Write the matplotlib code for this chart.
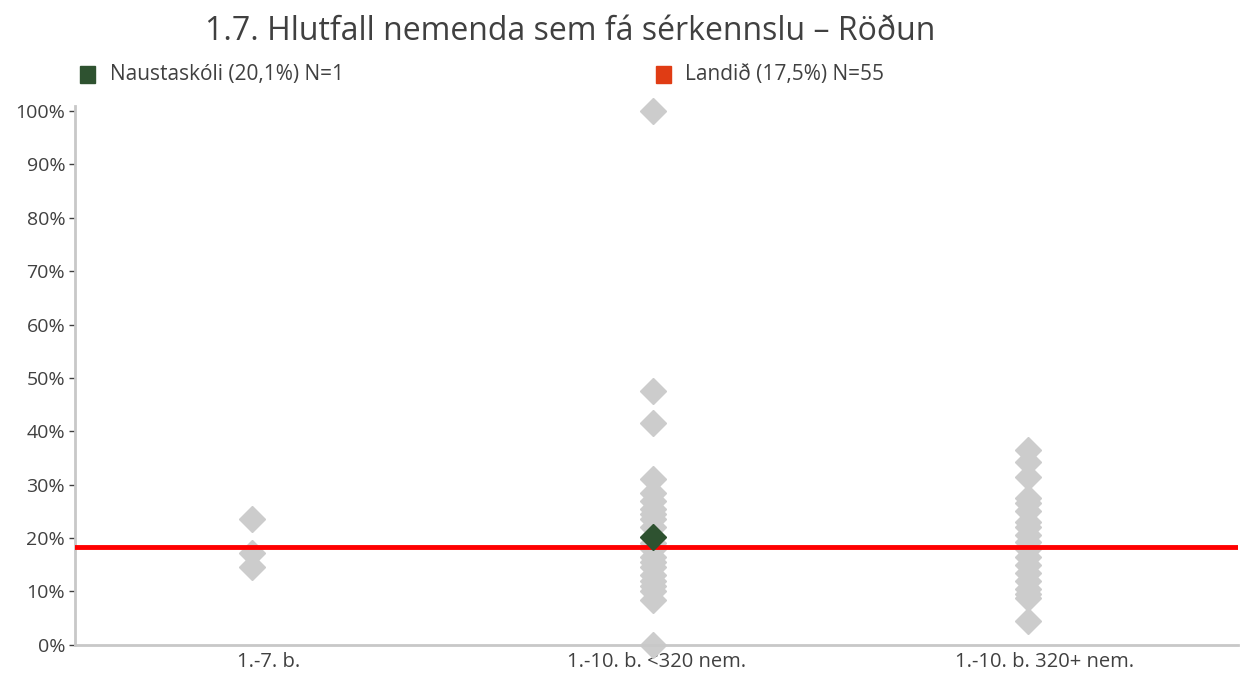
import matplotlib.pyplot as plt
import numpy as np

plt.rcParams['font.family'] = ['Open Sans', 'DejaVu Sans']

# Flokkar og gildi (hlutfall í %)
flokkar = ['1.-7. b.', '1.-10. b. <320 nem.', '1.-10. b. 320+ nem.']
hopur1 = [23.5, 17.2, 14.6]
hopur2 = [100.0, 47.5, 41.6, 31.0, 28.5, 27.0, 25.5, 24.5, 23.5, 22.0, 19.0,
          18.0, 16.5, 15.5, 14.5, 13.0, 12.0, 11.0, 10.0, 8.4, 0.0]
hopur3 = [36.5, 34.2, 31.5, 27.5, 26.5, 25.0, 23.0, 22.0, 20.5, 19.2, 18.0,
          16.5, 15.0, 13.5, 12.0, 10.5, 9.5, 8.8, 4.4]
skoli_flokkur = 1
skoli_gildi = 20.1
landid_lina = 18.3

skoli_label = 'Naustaskóli (20,1%) N=1'
landid_label = 'Landið (17,5%) N=55'
titill = '1.7. Hlutfall nemenda sem fá sérkennslu – Röðun'

# tíglarnir sitja aðeins vinstra megin við miðju flokks
hlidrun = [-0.044, -0.01, -0.041]

fig = plt.figure(figsize=(12.48, 6.73), dpi=100)
ax = fig.add_axes([0.060, 0.042, 0.932, 0.793])

for i, vals in enumerate([hopur1, hopur2, hopur3]):
    ax.plot([i + hlidrun[i]] * len(vals), vals, linestyle='none', marker='D',
            markersize=13.5, color='#cccccc', clip_on=False, zorder=2)

ax.axhline(landid_lina, color='#ff0000', linewidth=3.5, zorder=3)
ax.plot([skoli_flokkur + hlidrun[skoli_flokkur]], [skoli_gildi], linestyle='none',
        marker='D', markersize=13.5, color='#2e5230', clip_on=False, zorder=4)

ax.set_xlim(-0.5, 2.5)
ax.set_ylim(0, 100)
ax.set_xticks(range(len(flokkar)))
ax.set_xticklabels(flokkar)
ax.set_yticks(np.arange(0, 101, 10))
ax.set_yticklabels([f'{v}%' for v in range(0, 101, 10)])
ax.tick_params(axis='x', length=0, labelsize=14.5, colors='#404040', pad=5)
ax.tick_params(axis='y', length=4, width=1, labelsize=14, colors='#404040', pad=3)

for s in ['top', 'right']:
    ax.spines[s].set_visible(False)
for s in ['left', 'bottom']:
    ax.spines[s].set_color('#c8c8c8')
    ax.spines[s].set_linewidth(2)
ax.spines['left'].set_bounds(0, 101)

fig.text(0.457, 0.953, titill, ha='center', va='center', fontsize=23, color='#404040')

# Skýringar
fig.patches.append(plt.Rectangle((0.0645, 0.876), 0.0115, 0.026, transform=fig.transFigure,
                                 color='#2e5230'))
fig.text(0.088, 0.889, skoli_label, ha='left', va='center', fontsize=15, color='#404040')
fig.patches.append(plt.Rectangle((0.526, 0.876), 0.0115, 0.026, transform=fig.transFigure,
                                 color='#e03c14'))
fig.text(0.549, 0.889, landid_label, ha='left', va='center', fontsize=15, color='#404040')

fig.savefig('out.png', dpi=100)
